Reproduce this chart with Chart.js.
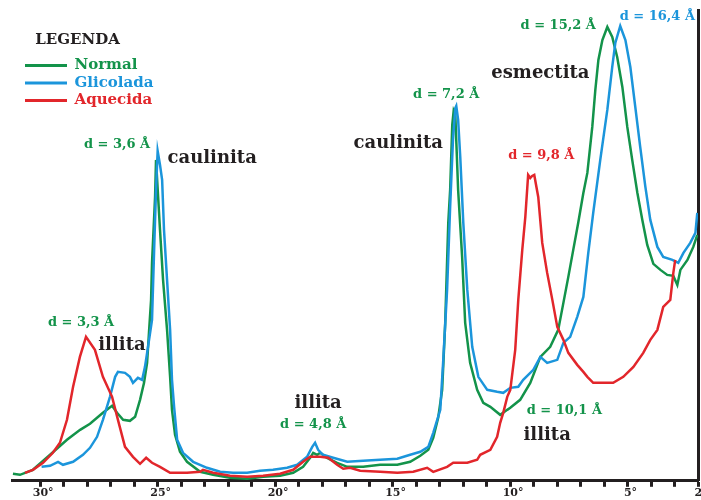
<!DOCTYPE html>
<html>
<head>
<meta charset="utf-8">
<script src="https://cdn.jsdelivr.net/npm/chart.js@4.4.1/dist/chart.umd.min.js"></script>
<style>
  body { margin: 0; background: #fff; }
  #wrap { width: 701px; height: 500px; }
</style>
</head>
<body>
<div id="wrap"><canvas id="xrd" width="701" height="500"></canvas></div>
<script>
// Difratograma (2θ em graus, intensidade relativa)
const normalTheta = [31.16, 30.86, 30.31, 29.58, 28.86, 28.30, 27.88, 27.33, 26.94, 26.73, 26.47, 26.18, 25.96, 25.75, 25.58, 25.45, 25.37, 25.28, 25.24, 25.11, 25.07, 24.90, 24.77, 24.60, 24.47, 24.39, 24.26, 24.05, 23.75, 23.19, 22.64, 21.92, 21.19, 20.51, 19.79, 19.23, 18.81, 18.51, 18.38, 18.21, 18.08, 17.79, 17.36, 16.93, 16.25, 15.53, 14.80, 14.25, 13.82, 13.48, 13.27, 13.06, 12.89, 12.76, 12.63, 12.55, 12.46, 12.40, 12.33, 12.21, 12.04, 11.91, 11.70, 11.40, 11.14, 10.84, 10.42, 10.12, 9.99, 9.57, 9.14, 8.71, 8.29, 7.95, 7.73, 7.52, 7.31, 7.10, 6.88, 6.71, 6.50, 6.37, 6.24, 6.07, 5.86, 5.65, 5.44, 5.22, 5.01, 4.80, 4.58, 4.37, 4.16, 3.90, 3.60, 3.31, 3.05, 2.88, 2.75, 2.45, 2.20, 2.03];
const normalInt = [7, 6, 11, 26, 41, 51, 57, 68, 75, 68, 61, 60, 64, 81, 98, 118, 148, 181, 218, 284, 321, 251, 201, 151, 104, 71, 46, 29, 19, 9, 6, 3, 2, 4, 5, 8, 14, 23, 28, 26, 28, 23, 18, 14, 14, 16, 16, 19, 25, 31, 43, 63, 91, 158, 258, 291, 356, 370, 366, 291, 224, 158, 118, 91, 78, 74, 66, 71, 73, 81, 98, 124, 134, 151, 178, 204, 231, 258, 288, 308, 354, 391, 421, 441, 454, 444, 424, 394, 354, 321, 288, 261, 236, 217, 211, 206, 205, 196, 211, 221, 234, 246];

const glicoTheta = [29.94, 29.58, 29.24, 29.03, 28.60, 28.18, 27.88, 27.58, 27.33, 27.03, 26.81, 26.69, 26.39, 26.18, 26.05, 25.84, 25.66, 25.54, 25.41, 25.24, 25.15, 25.07, 25.00, 24.90, 24.81, 24.73, 24.60, 24.47, 24.39, 24.30, 24.17, 23.92, 23.49, 22.90, 22.34, 21.79, 21.19, 20.64, 20.09, 19.49, 19.06, 18.64, 18.42, 18.30, 18.17, 17.96, 17.53, 16.93, 16.25, 15.53, 14.80, 14.25, 13.82, 13.48, 13.27, 12.97, 12.85, 12.68, 12.55, 12.43, 12.33, 12.29, 12.21, 12.12, 11.99, 11.82, 11.61, 11.35, 10.97, 10.55, 10.29, 9.99, 9.65, 9.44, 9.01, 8.71, 8.42, 7.99, 7.73, 7.44, 7.14, 6.88, 6.67, 6.46, 6.16, 5.86, 5.65, 5.52, 5.31, 5.09, 4.88, 4.67, 4.46, 4.24, 4.03, 3.73, 3.48, 3.09, 2.84, 2.62, 2.33, 2.11, 2.03];
const glicoInt = [14, 15, 19, 16, 19, 26, 33, 44, 61, 84, 104, 109, 108, 104, 98, 103, 101, 114, 134, 161, 231, 291, 330, 316, 301, 251, 201, 151, 101, 74, 41, 28, 19, 13, 9, 8, 8, 10, 11, 13, 16, 24, 34, 38, 31, 26, 23, 19, 20, 21, 22, 26, 29, 34, 48, 71, 118, 191, 274, 341, 373, 375, 361, 324, 258, 191, 134, 104, 91, 89, 88, 93, 94, 101, 111, 124, 118, 121, 138, 144, 164, 184, 228, 268, 321, 371, 414, 438, 455, 441, 414, 374, 334, 294, 261, 234, 224, 221, 218, 228, 238, 248, 268];

const aquecTheta = [30.65, 30.31, 29.88, 29.46, 29.16, 28.86, 28.60, 28.31, 28.05, 27.67, 27.33, 26.94, 26.69, 26.39, 26.05, 25.75, 25.49, 25.24, 24.90, 24.47, 23.75, 23.19, 23.07, 22.64, 21.92, 21.19, 20.51, 19.79, 19.23, 18.81, 18.51, 18.08, 17.74, 17.36, 17.10, 16.81, 16.38, 15.53, 14.80, 14.12, 13.53, 13.27, 12.68, 12.42, 11.82, 11.40, 11.27, 10.84, 10.55, 10.42, 10.29, 10.12, 9.99, 9.78, 9.65, 9.48, 9.35, 9.23, 9.14, 9.06, 8.97, 8.80, 8.63, 8.42, 8.20, 7.99, 7.73, 7.52, 7.14, 6.88, 6.71, 6.46, 6.03, 5.61, 5.18, 4.75, 4.33, 4.03, 3.73, 3.48, 3.18, 3.05, 2.97];
const aquecInt = [8, 11, 18, 28, 38, 61, 94, 124, 144, 131, 104, 84, 61, 34, 24, 17, 23, 18, 14, 8, 8, 9, 11, 8, 5, 4, 5, 7, 11, 19, 24, 24, 23, 16, 12, 13, 10, 9, 8, 9, 13, 9, 14, 18, 18, 21, 26, 31, 44, 58, 68, 84, 91, 131, 181, 231, 264, 306, 303, 305, 306, 284, 238, 208, 181, 154, 141, 128, 116, 109, 104, 98, 98, 98, 104, 114, 128, 141, 151, 174, 181, 208, 221];

const xTickLabels = [30, 25, 20, 15, 10, 5, 2];

const GREEN = '#13934a';
const BLUE = '#1b95db';
const RED = '#e2262b';
const INK = '#231f20';
const SERIF = '"DejaVu Serif", "Liberation Serif", serif';

// identificação dos picos
const notes = [
  { text: 'd = 3,3 Å', x: 28.26, y: 158, color: GREEN, size: 13 },
  { text: 'illita', x: 26.52, y: 136, color: INK, size: 18 },
  { text: 'd = 3,6 Å', x: 26.73, y: 336, color: GREEN, size: 13 },
  { text: 'caulinita', x: 22.68, y: 323, color: INK, size: 18 },
  { text: 'illita', x: 18.17, y: 78, color: INK, size: 18 },
  { text: 'd = 4,8 Å', x: 18.38, y: 56, color: GREEN, size: 13 },
  { text: 'caulinita', x: 14.76, y: 338, color: INK, size: 18 },
  { text: 'd = 7,2 Å', x: 12.72, y: 386, color: GREEN, size: 13 },
  { text: 'd = 9,8 Å', x: 8.67, y: 325, color: RED, size: 13 },
  { text: 'esmectita', x: 8.71, y: 408, color: INK, size: 18 },
  { text: 'd = 15,2 Å', x: 7.95, y: 455, color: GREEN, size: 13 },
  { text: 'd = 16,4 Å', x: 3.73, y: 464, color: BLUE, size: 13 },
  { text: 'd = 10,1 Å', x: 7.69, y: 70, color: GREEN, size: 13 },
  { text: 'illita', x: 8.42, y: 45, color: INK, size: 18 }
];

function toPoints(theta, inten) {
  return theta.map((t, i) => ({ x: t, y: inten[i] }));
}

const notesPlugin = {
  id: 'notes',
  afterLayout(chart) {
    // legenda um pouco para dentro, como no original
    const lg = chart.legend;
    lg.left = 22.5;
    lg.width = 110;
  },
  afterDatasetsDraw(chart) {
    const { ctx, scales: { x, y } } = chart;
    ctx.save();
    ctx.textAlign = 'center';
    ctx.textBaseline = 'middle';
    notes.forEach(n => {
      ctx.font = 'bold ' + n.size + 'px ' + SERIF;
      ctx.fillStyle = n.color;
      ctx.fillText(n.text, x.getPixelForValue(n.x), y.getPixelForValue(n.y));
    });
    ctx.restore();
  }
};

new Chart(document.getElementById('xrd'), {
  type: 'line',
  data: {
    datasets: [
      { label: 'Normal', data: toPoints(normalTheta, normalInt), borderColor: GREEN, order: 3 },
      { label: 'Glicolada', data: toPoints(glicoTheta, glicoInt), borderColor: BLUE, order: 2 },
      { label: 'Aquecida', data: toPoints(aquecTheta, aquecInt), borderColor: RED, order: 1 }
    ]
  },
  options: {
    responsive: false,
    animation: false,
    devicePixelRatio: 1,
    layout: { padding: { left: 12, right: 3, top: 10, bottom: 0 } },
    elements: {
      point: { radius: 0 },
      line: { borderWidth: 2.5, tension: 0, fill: false }
    },
    scales: {
      x: {
        type: 'linear',
        reverse: true,
        min: 2,
        max: 31.2,
        afterBuildTicks: s => { s.ticks = s.ticks.filter(t => t.value >= 2 && t.value <= 30); },
        afterFit: s => { s.paddingLeft = 0; s.paddingRight = 0; },
        border: { display: true, color: INK, width: 3 },
        grid: { drawOnChartArea: false, drawTicks: true, tickLength: 6, tickWidth: 3, tickColor: INK },
        ticks: {
          stepSize: 1,
          autoSkip: false,
          maxRotation: 0,
          padding: 0,
          labelOffset: 3,
          color: INK,
          font: { family: SERIF, weight: 'bold', size: 11, lineHeight: 1.2 },
          callback: v => xTickLabels.includes(v) ? v + '°' : ''
        }
      },
      y: {
        position: 'right',
        min: 0,
        max: 471,
        grid: { display: false, drawTicks: false, tickLength: 0 },
        ticks: { display: false },
        border: { display: true, color: INK, width: 3 }
      }
    },
    plugins: {
      tooltip: { enabled: false },
      legend: {
        position: 'chartArea',
        align: 'start',
        title: {
          display: true,
          text: 'LEGENDA',
          color: INK,
          position: 'center',
          font: { family: SERIF, weight: 'bold', size: 15, lineHeight: 1.2 },
          padding: { top: 33, bottom: 4.5 }
        },
        labels: {
          boxWidth: 42,
          boxHeight: 3,
          padding: 2.5,
          font: { family: SERIF, weight: 'bold', size: 15 },
          generateLabels: chart => chart.data.datasets.map((ds, i) => ({
            text: ds.label,
            fillStyle: ds.borderColor,
            strokeStyle: ds.borderColor,
            fontColor: ds.borderColor,
            lineWidth: 0,
            hidden: false,
            datasetIndex: i
          }))
        }
      }
    }
  },
  plugins: [notesPlugin]
});
</script>
</body>
</html>
